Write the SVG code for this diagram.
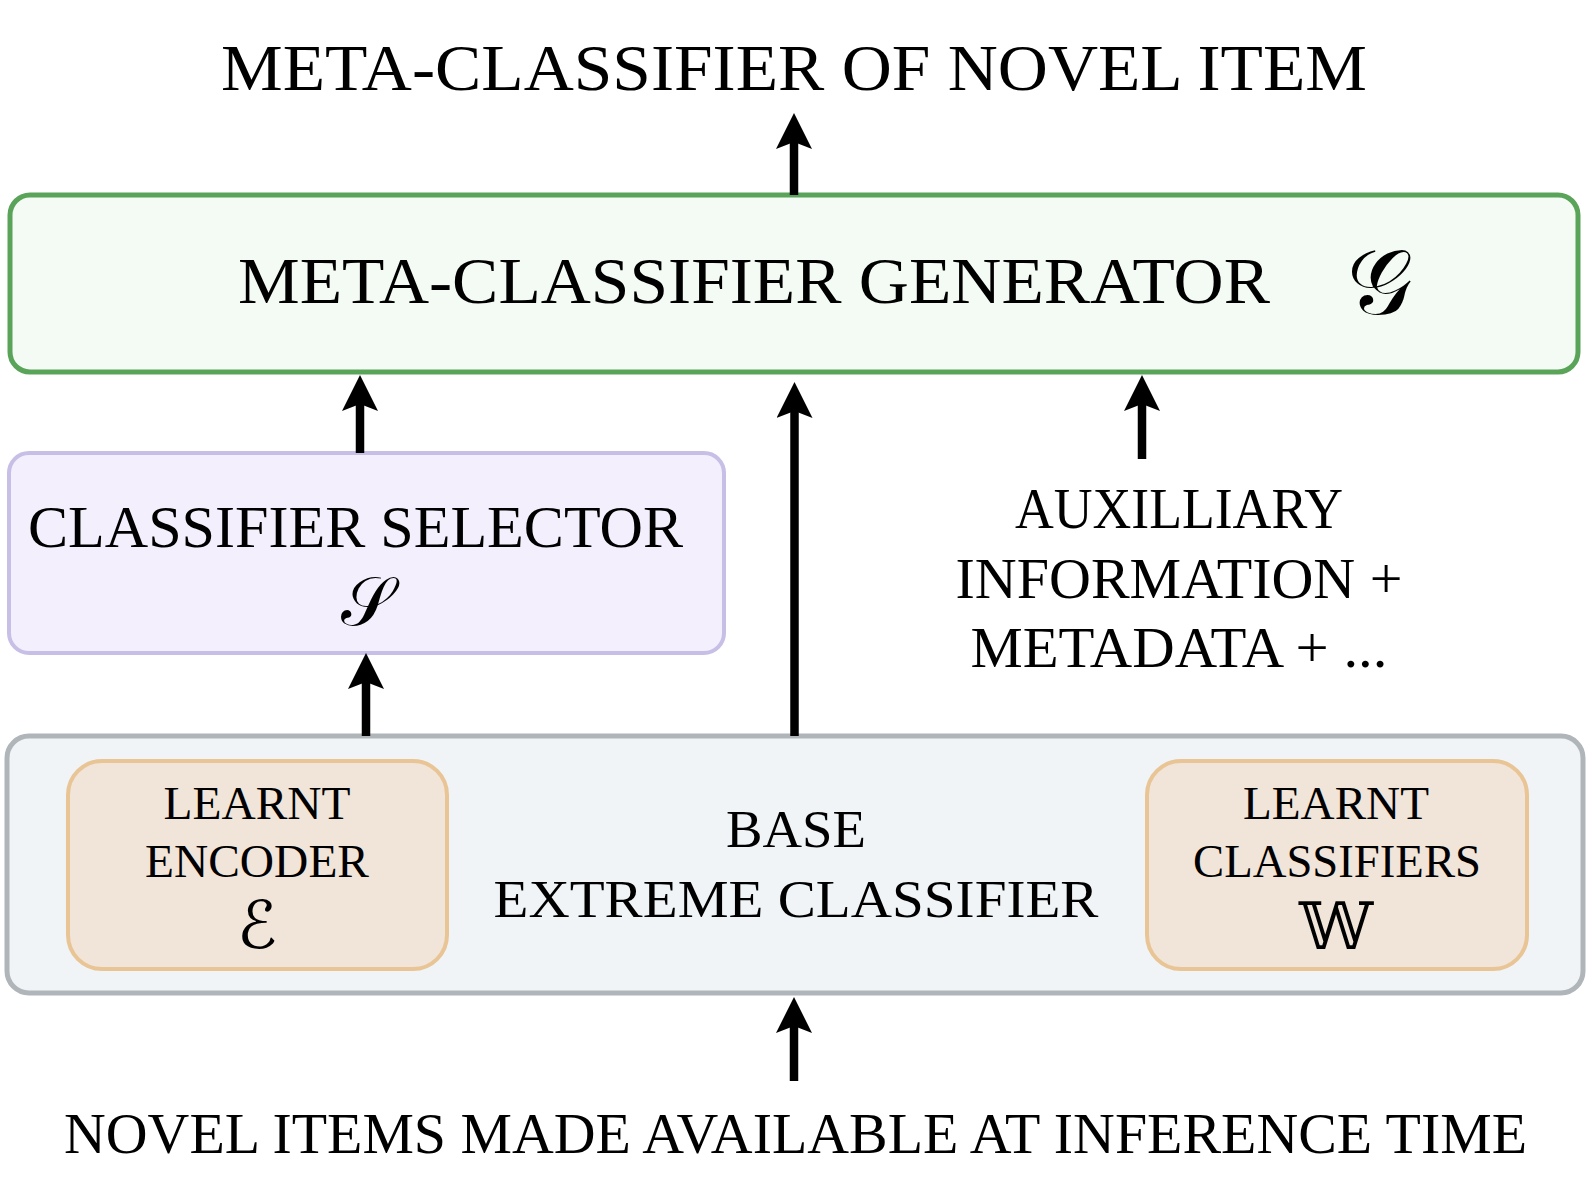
<svg xmlns="http://www.w3.org/2000/svg" width="1591" height="1188" viewBox="0 0 1591 1188">
<style>
  .t { font-family: "Liberation Serif", "DejaVu Serif", serif; fill: #000; }
  .sym { font-family: "DejaVu Serif", "DejaVu Sans", "Noto Sans", serif; fill: #000; }
  .conn line { stroke: #000; stroke-width: 8.5; marker-end: url(#ah); }
  .green { fill: #f3fbf4; stroke: #5aa45a; stroke-width: 5; }
  .purple { fill: #f3effc; stroke: #c8bfe6; stroke-width: 4; }
  .gray { fill: #f0f4f7; stroke: #b0b5b9; stroke-width: 5; }
  .orange { fill: #f1e4d9; stroke: #e9c596; stroke-width: 4; }
</style>
<defs>
  <marker id="ah" viewBox="0 0 36 36" refX="7" refY="18" markerWidth="36" markerHeight="36" markerUnits="userSpaceOnUse" orient="auto">
    <path d="M0,0 L36,18 L0,36 L7,18 Z" fill="#000"/>
  </marker>
</defs>
<rect width="1591" height="1188" fill="#ffffff"/>

<g id="title">
  <text class="t" x="794" y="90" font-size="66" text-anchor="middle" textLength="1146" lengthAdjust="spacingAndGlyphs">META-CLASSIFIER OF NOVEL ITEM</text>
</g>

<g id="generator">
  <rect class="green" x="10" y="195" width="1568" height="177" rx="20"/>
  <text class="t" x="238" y="303" font-size="66" textLength="1032" lengthAdjust="spacingAndGlyphs">META-CLASSIFIER GENERATOR</text>
  <text class="sym" x="1380" y="314" font-size="92" text-anchor="middle">𝒢</text>
</g>

<g id="selector">
  <rect class="purple" x="9" y="453" width="715" height="200" rx="20"/>
  <text class="t" x="28" y="547" font-size="60" textLength="655" lengthAdjust="spacingAndGlyphs">CLASSIFIER SELECTOR</text>
  <text class="sym" x="367" y="625" font-size="68" text-anchor="middle">𝒮</text>
</g>

<g id="auxiliary">
  <text class="t" x="1179" y="528" font-size="56" text-anchor="middle" textLength="328" lengthAdjust="spacingAndGlyphs">AUXILLIARY</text>
  <text class="t" x="1179" y="598" font-size="56" text-anchor="middle" textLength="447" lengthAdjust="spacingAndGlyphs">INFORMATION +</text>
  <text class="t" x="1179" y="667" font-size="56" text-anchor="middle" textLength="417" lengthAdjust="spacingAndGlyphs">METADATA + ...</text>
</g>

<g id="base">
  <rect class="gray" x="7" y="736" width="1576" height="257" rx="22"/>
  <text class="t" x="796" y="847" font-size="53" text-anchor="middle" textLength="140" lengthAdjust="spacingAndGlyphs">BASE</text>
  <text class="t" x="796" y="917" font-size="53" text-anchor="middle" textLength="605" lengthAdjust="spacingAndGlyphs">EXTREME CLASSIFIER</text>
</g>

<g id="encoder">
  <rect class="orange" x="68" y="761" width="379" height="208" rx="34"/>
  <text class="t" x="257" y="819" font-size="47" text-anchor="middle" textLength="187" lengthAdjust="spacingAndGlyphs">LEARNT</text>
  <text class="t" x="257" y="877" font-size="47" text-anchor="middle" textLength="224" lengthAdjust="spacingAndGlyphs">ENCODER</text>
  <text class="sym" x="257" y="948" font-size="66" text-anchor="middle">ℰ</text>
</g>

<g id="classifiers">
  <rect class="orange" x="1147" y="761" width="380" height="208" rx="34"/>
  <text class="t" x="1336" y="819" font-size="47" text-anchor="middle" textLength="186" lengthAdjust="spacingAndGlyphs">LEARNT</text>
  <text class="t" x="1337" y="877" font-size="47" text-anchor="middle" textLength="288" lengthAdjust="spacingAndGlyphs">CLASSIFIERS</text>
  <text class="sym" x="1336" y="949" font-size="66" text-anchor="middle">𝕎</text>
</g>

<g id="input">
  <text class="t" x="64" y="1153" font-size="56" textLength="1463" lengthAdjust="spacingAndGlyphs">NOVEL ITEMS MADE AVAILABLE AT INFERENCE TIME</text>
</g>

<g id="connectors" class="conn">
  <line x1="794" y1="195" x2="794" y2="142"/>
  <line x1="360" y1="453" x2="360" y2="404"/>
  <line x1="794.5" y1="736" x2="794.5" y2="411"/>
  <line x1="1142" y1="459" x2="1142" y2="404"/>
  <line x1="366" y1="736" x2="366" y2="682"/>
  <line x1="794" y1="1081" x2="794" y2="1026"/>
</g>
</svg>
